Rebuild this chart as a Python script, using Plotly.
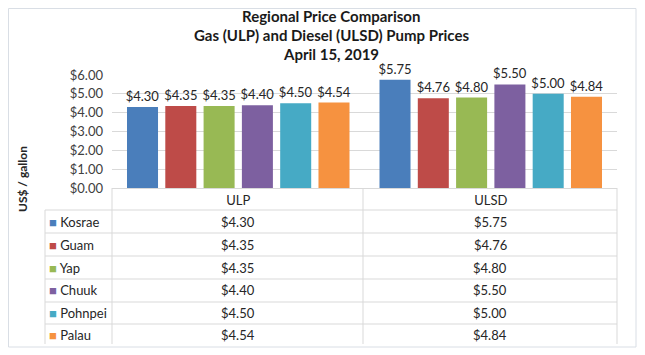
import plotly.graph_objects as go

categories = ["ULP", "ULSD"]
regions = ["Kosrae", "Guam", "Yap", "Chuuk", "Pohnpei", "Palau"]
ulp_prices = [4.30, 4.35, 4.35, 4.40, 4.50, 4.54]
ulsd_prices = [5.75, 4.76, 4.80, 5.50, 5.00, 4.84]
colors = ["#4A7EBB", "#BE4B48", "#98B954", "#7D60A0", "#46AAC5", "#F69240"]
y_ticks = [0, 1, 2, 3, 4, 5, 6]
title_lines = ["Regional Price Comparison",
               "Gas (ULP) and Diesel (ULSD) Pump Prices",
               "April 15, 2019"]

FONT = "Lato"
OFF = 8  # page body margin
W, H = 645 - OFF, 355 - OFF
L, R, T, B = 112 - OFF, 617 - OFF, 75 - OFF, 188 - OFF  # plot area in figure pixels


def px(x):
    return (x - OFF - L) / (R - L)


def py(y):
    return (B - (y - OFF)) / (B - T)


fig = go.Figure()
for i, name in enumerate(regions):
    vals = [ulp_prices[i], ulsd_prices[i]]
    fig.add_trace(go.Bar(
        x=categories, y=vals, name=name,
        marker=dict(color=colors[i], line=dict(width=0)),
        text=[f"${v:.2f}" for v in vals], textposition="outside",
        textfont=dict(family=FONT, size=13, color="#262626"),
        cliponaxis=False, constraintext="none",
    ))

shapes = []
grid = "#D9D9D9"
for yl in [210, 233, 256, 279, 302, 324]:
    shapes.append(dict(type="line", xref="paper", yref="paper",
                       x0=px(45), x1=px(617), y0=py(yl), y1=py(yl),
                       line=dict(color=grid, width=1)))
shapes.append(dict(type="line", xref="paper", yref="paper",
                   x0=px(45), x1=px(45), y0=py(210), y1=py(344),
                   line=dict(color=grid, width=1)))
for xl in [112, 363, 617]:
    shapes.append(dict(type="line", xref="paper", yref="paper",
                       x0=px(xl), x1=px(xl), y0=py(188), y1=py(344),
                       line=dict(color=grid, width=1)))
# outer border
shapes.append(dict(type="rect", xref="paper", yref="paper",
                   x0=px(8.5), x1=px(636), y0=py(347), y1=py(8.5),
                   line=dict(color="#D9DEE5", width=1)))

annotations = []
title_y = [16, 35, 54]
for j, line in enumerate(title_lines):
    annotations.append(dict(
        xref="paper", yref="paper", x=px(331), y=py(title_y[j]),
        xanchor="center", yanchor="middle", text=f"<b>{line}</b>", showarrow=False,
        font=dict(family=FONT, size=15, color="#1a1a1a")))

row_centers = [221.5, 244.5, 267.5, 290, 313, 335]
for i, name in enumerate(regions):
    yc = py(row_centers[i])
    annotations.append(dict(
        xref="paper", yref="paper", x=px(47), y=yc, xanchor="left", yanchor="middle",
        text=f"<span style='color:{colors[i]}'>■</span> {name}", showarrow=False,
        font=dict(family=FONT, size=13, color="#262626")))
    annotations.append(dict(
        xref="paper", yref="paper", x=px(237.5), y=yc, xanchor="center", yanchor="middle",
        text=f"${ulp_prices[i]:.2f}", showarrow=False,
        font=dict(family=FONT, size=13, color="#262626")))
    annotations.append(dict(
        xref="paper", yref="paper", x=px(490), y=yc, xanchor="center", yanchor="middle",
        text=f"${ulsd_prices[i]:.2f}", showarrow=False,
        font=dict(family=FONT, size=13, color="#262626")))

annotations.append(dict(
    xref="paper", yref="paper", x=px(22), y=py(179), xanchor="center", yanchor="middle",
    text="<b>US$ / gallon</b>", textangle=-90, showarrow=False,
    font=dict(family=FONT, size=12, color="#262626")))

fig.update_layout(
    width=W, height=H,
    margin=dict(l=L, r=W - R, t=T, b=H - B, pad=0),
    paper_bgcolor="white", plot_bgcolor="white",
    barmode="group", bargap=0.09, bargroupgap=0.19,
    showlegend=False,
    xaxis=dict(showline=True, linecolor=grid, ticks="", showgrid=False,
               tickfont=dict(family=FONT, size=13, color="#262626")),
    yaxis=dict(range=[0, 6], tickvals=y_ticks, tickformat="$.2f",
               showgrid=True, gridcolor=grid, zeroline=False, showline=False,
               ticks="", ticklabelstandoff=8,
               tickfont=dict(family=FONT, size=13, color="#404040")),
    shapes=shapes, annotations=annotations,
)

fig.write_html("out.html")
